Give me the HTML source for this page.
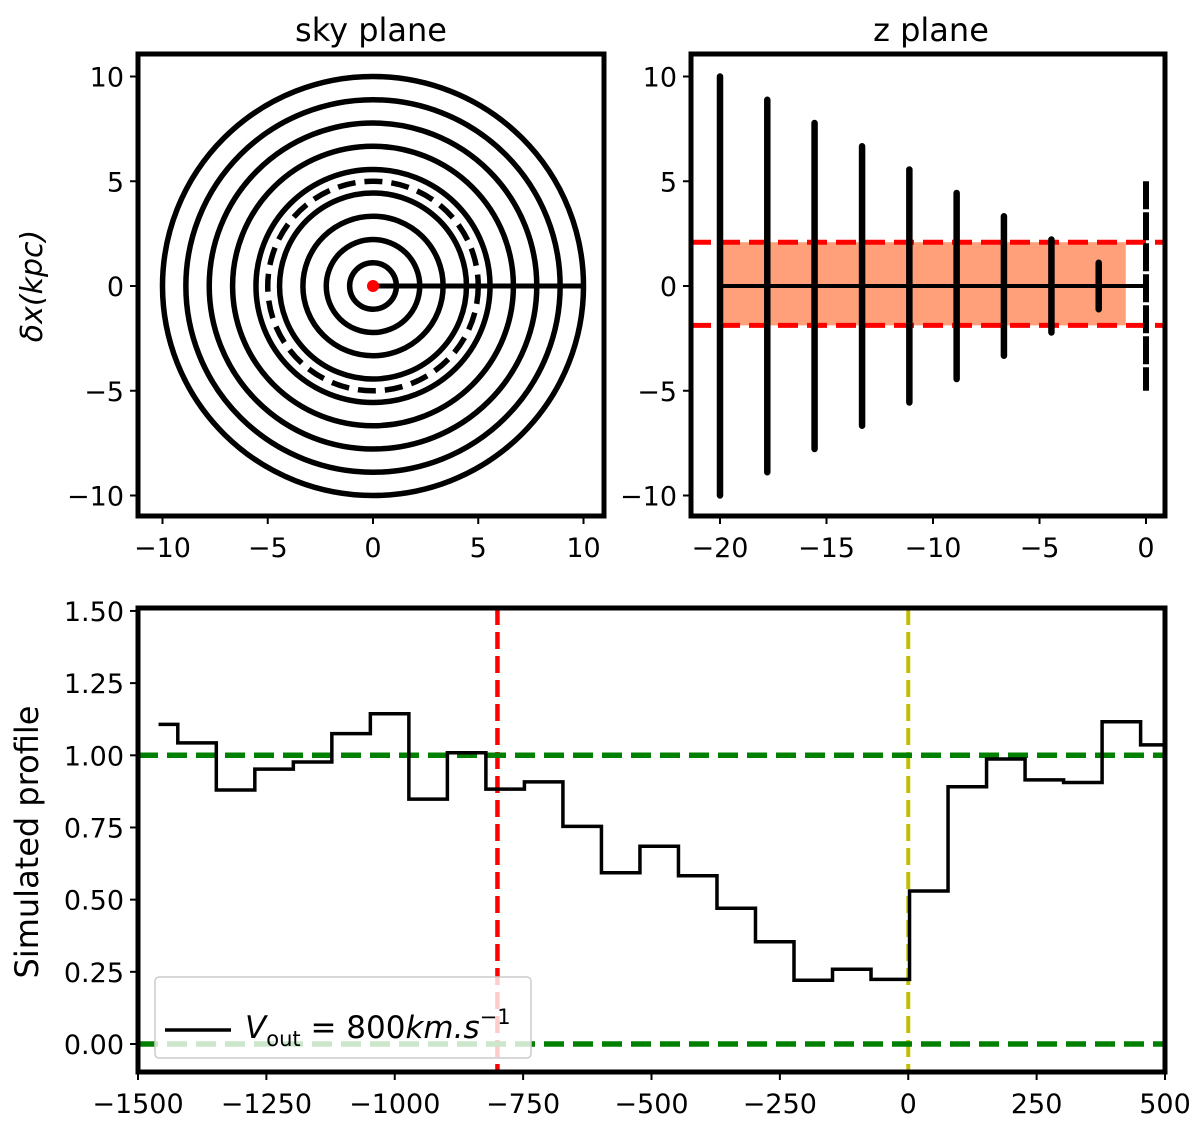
<!DOCTYPE html>
<html><head><meta charset="utf-8"><style>
body{margin:0;background:#fff}
svg{display:block}
text{font-family:"DejaVu Sans","Liberation Sans",sans-serif;fill:#000}
</style></head><body>
<svg id="fig" width="1200" height="1128" viewBox="0 0 1200 1128"></svg>
<script>
// ---- data ----
const ringRadii = [1.11,2.22,3.33,4.44,5.56,6.67,7.78,8.89,10];
const dashedRadius = 5;
const zPositions = [-20,-17.78,-15.56,-13.33,-11.11,-8.89,-6.67,-4.44,-2.22];
const zHalfHeights = [10,8.89,7.78,6.67,5.56,4.44,3.33,2.22,1.11];
const bandLow = -1.88, bandHigh = 2.09, bandEnd = -0.95;
const skyTicks = [-10,-5,0,5,10];
const zxTicks = [-20,-15,-10,-5,0];
const velocities = [-1460,-1385,-1310,-1235,-1160,-1085,-1010,-935,-860,-785,-710,-635,-560,-485,-410,-335,-260,-185,-110,-35,40,115,190,265,340,415,490];
const profile = [1.107,1.043,0.880,0.952,0.977,1.075,1.144,0.848,1.009,0.883,0.908,0.754,0.593,0.685,0.583,0.470,0.354,0.221,0.259,0.224,0.530,0.891,0.987,0.915,0.906,1.116,1.036];
const vTicks = [-1500,-1250,-1000,-750,-500,-250,0,250,500];
const pTicks = [0,0.25,0.5,0.75,1.0,1.25,1.5];
const vRed = -800, vYellow = 0;

const NS='http://www.w3.org/2000/svg';
const fig=document.getElementById('fig');
function el(tag,attrs,parent){const e=document.createElementNS(NS,tag);for(const k in attrs)e.setAttribute(k,attrs[k]);(parent||fig).appendChild(e);return e;}
function txt(s,x,y,anchor,size,parent){const t=el('text',{x:x,y:y,'text-anchor':anchor,'font-size':size},parent);t.textContent=s;return t;}
function fmtMinus(v){return v<0?'\u2212'+Math.abs(v):String(v);}
const TS=27;

// ---- sky plane ----
const skyX=v=>373+v*21.05, skyY=v=>286-v*20.95;
const g1=el('g',{});


ringRadii.forEach(r=>{
  const c=el('ellipse',{cx:skyX(0),cy:skyY(0),rx:r*21.05,ry:r*20.95,fill:'none',stroke:'#000','stroke-width':5.5},g1);
  
  
});
const dc=el('ellipse',{cx:skyX(0),cy:skyY(0),rx:dashedRadius*21.05,ry:dashedRadius*20.95,fill:'none',stroke:'#000','stroke-width':5.5,'stroke-dasharray':'18 9'},g1);


const hl=el('line',{x1:skyX(0),y1:skyY(0),x2:skyX(10),y2:skyY(0),stroke:'#000','stroke-width':5},g1);


const rd=el('circle',{cx:skyX(0),cy:skyY(0),r:6,fill:'#ff0000'},g1);


el('rect',{x:138,y:54,width:466,height:462,fill:'none',stroke:'#000','stroke-width':5},g1);
skyTicks.forEach(t=>{
  el('line',{x1:skyX(t),y1:516,x2:skyX(t),y2:524,stroke:'#000','stroke-width':2},g1);
  txt(fmtMinus(t),skyX(t),557,'middle',TS,g1);
  el('line',{x1:130,y1:skyY(t),x2:138,y2:skyY(t),stroke:'#000','stroke-width':2},g1);
  txt(fmtMinus(t),124,skyY(t)+10,'end',TS,g1);
});
const t1=txt('sky plane',371,41,'middle',32,g1);


const yl=txt('δx(kpc)',0,0,'middle',30,g1);
yl.setAttribute('transform','translate(42,286) rotate(-90)');
yl.setAttribute('font-style','italic');



// ---- z plane ----
const zX=v=>1146+v*21.3, zY=v=>286-v*20.95;
const g2=el('g',{});


const band=el('rect',{x:zX(-20),y:zY(bandHigh),width:zX(bandEnd)-zX(-20),height:zY(bandLow)-zY(bandHigh),fill:'#ffa07a'},g2);


const zl=el('line',{x1:zX(-20),y1:zY(0),x2:zX(0),y2:zY(0),stroke:'#000','stroke-width':4},g2);


[bandHigh,bandLow].forEach(b=>{
  const l=el('line',{x1:691,y1:zY(b),x2:1165,y2:zY(b),stroke:'#ff0000','stroke-width':5,'stroke-dasharray':'20 9'},g2);
  
  
});
zPositions.forEach((z,i)=>{
  const l=el('line',{x1:zX(z),y1:zY(zHalfHeights[i]),x2:zX(z),y2:zY(-zHalfHeights[i]),stroke:'#000','stroke-width':6.5,'stroke-linecap':'round'},g2);
  
  
});
const dl=el('line',{x1:zX(0),y1:zY(5),x2:zX(0),y2:zY(-5),stroke:'#000','stroke-width':6,'stroke-dasharray':'28 3'},g2);


el('rect',{x:691,y:54,width:474,height:462,fill:'none',stroke:'#000','stroke-width':5},g2);
zxTicks.forEach(t=>{
  el('line',{x1:zX(t),y1:516,x2:zX(t),y2:524,stroke:'#000','stroke-width':2},g2);
  txt(fmtMinus(t),zX(t),557,'middle',TS,g2);
});
skyTicks.forEach(t=>{
  el('line',{x1:683,y1:zY(t),x2:691,y2:zY(t),stroke:'#000','stroke-width':2},g2);
  txt(fmtMinus(t),677,zY(t)+10,'end',TS,g2);
});
const t2=txt('z plane',931,41,'middle',32,g2);



// ---- profile ----
const vX=v=>138+(v+1500)*0.5135, pY=v=>1044-v*288.7;
const g3=el('g',{});


const red=el('line',{x1:vX(vRed),y1:608,x2:vX(vRed),y2:1072,stroke:'#ff0000','stroke-width':4.5,'stroke-dasharray':'17 7'},g3);


const yel=el('line',{x1:vX(vYellow),y1:608,x2:vX(vYellow),y2:1072,stroke:'#bfbf00','stroke-width':4,'stroke-dasharray':'17 7'},g3);


[1,0].forEach(v=>{
  const l=el('line',{x1:138,y1:pY(v),x2:1165,y2:pY(v),stroke:'#008000','stroke-width':5.5,'stroke-dasharray':'20 9'},g3);
  
  
});
let d='';
velocities.forEach((v,i)=>{
  const left=i===0?v:(velocities[i-1]+v)/2;
  const right=i===velocities.length-1?v+10:(v+velocities[i+1])/2;
  d+=(i===0?'M':'L')+vX(left)+' '+pY(profile[i])+' L'+vX(right)+' '+pY(profile[i])+' ';
});
const st=el('path',{d:d,fill:'none',stroke:'#000','stroke-width':3.5},g3);


el('rect',{x:138,y:608,width:1027,height:464,fill:'none',stroke:'#000','stroke-width':5},g3);
vTicks.forEach(t=>{
  el('line',{x1:vX(t),y1:1072,x2:vX(t),y2:1080,stroke:'#000','stroke-width':2},g3);
  txt(fmtMinus(t),vX(t),1113,'middle',TS,g3);
});
pTicks.forEach(t=>{
  el('line',{x1:130,y1:pY(t),x2:138,y2:pY(t),stroke:'#000','stroke-width':2},g3);
  txt(t.toFixed(2),124,pY(t)+10,'end',TS,g3);
});
const yl2=txt('Simulated profile',0,0,'middle',32,g3);
yl2.setAttribute('transform','translate(38,842) rotate(-90)');


const lg=el('g',{},g3);


el('rect',{x:155,y:977,width:376,height:81,rx:4,fill:'rgba(255,255,255,0.8)',stroke:'#ccc','stroke-width':1.5},lg);
el('line',{x1:165,y1:1030,x2:231,y2:1030,stroke:'#000','stroke-width':3.5},lg);
const lt=el('text',{x:245,y:1038,'font-size':31},lg);
lt.innerHTML='<tspan font-style="italic">V</tspan><tspan font-size="21" dy="8">out</tspan><tspan dy="-8"> = 800</tspan><tspan font-style="italic">km.s</tspan><tspan font-size="21" dy="-14">−1</tspan>';


</script>
</body></html>
